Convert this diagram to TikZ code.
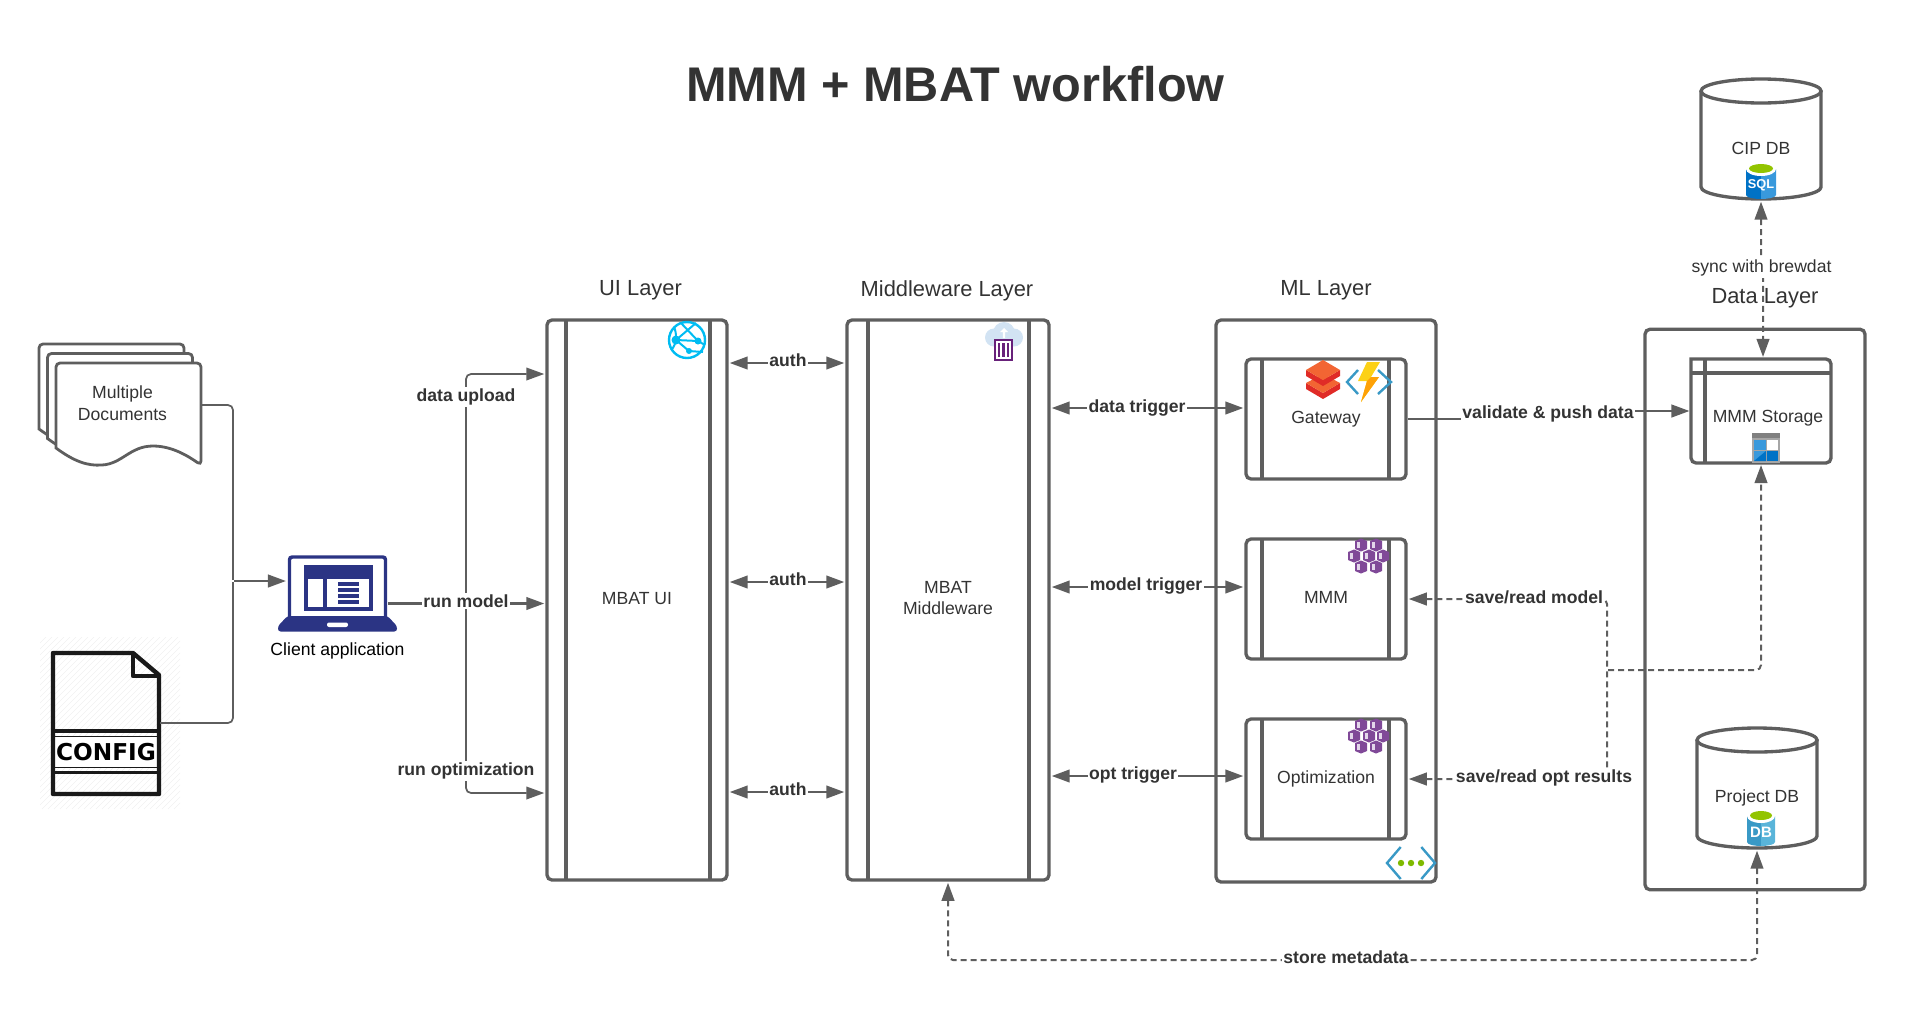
\documentclass[tikz,border=0pt]{standalone}
\usepackage{fontspec}
\setmainfont{Liberation Sans}
\newfontfamily\cfgfont{DejaVu Sans}
\usetikzlibrary{arrows.meta}
\definecolor{linegray}{HTML}{5E5E5E}
\definecolor{textgray}{HTML}{333333}
\definecolor{laptopblue}{HTML}{2B3484}
\definecolor{azureblue}{HTML}{3999C6}
\definecolor{azurelight}{HTML}{59B4D9}
\definecolor{azuredark}{HTML}{0072C6}
\definecolor{azuremid}{HTML}{3999DC}
\definecolor{kubepurple}{HTML}{804998}
\definecolor{kubelight}{HTML}{E3D6EA}
\definecolor{limegreen}{HTML}{7FBA00}
\definecolor{globecyan}{HTML}{00BCF2}
\definecolor{cloudblue}{HTML}{D2E3F3}
\definecolor{boxpurple}{HTML}{68217A}
\definecolor{stackorange}{HTML}{F26533}
\definecolor{stackred}{HTML}{E02B27}
\definecolor{boltyellow}{HTML}{FCD116}
\definecolor{boltorange}{HTML}{FF8C00}
\tikzset{every picture/.style={line width=0.75pt}}
\tikzset{
	boxline/.style={draw=linegray,line width=2.5pt},
	laneBox/.style={boxline,rectangle,rounded corners=3.75pt,inner sep=0pt,minimum width=#1*0.75pt,align=center,text=textgray,text depth=3pt,font=\bodyfont},
	flow/.style={draw=linegray,line width=1.6pt,>={Triangle[length=13.5pt,width=9.5pt]},shorten <=0.8pt,shorten >=0.8pt},
	thinflow/.style={flow,line width=1.3pt,rounded corners=3.75pt},
	dashflow/.style={flow,line width=1.5pt,dash pattern=on 4.5pt off 3pt,rounded corners=3.75pt},
	bodytext/.style={font=\bodyfont,text=textgray,align=center,inner sep=0pt},
	flowtext/.style={font=\bodyfont\bfseries,text=textgray,fill=white,align=center,inner sep=1pt},
	layertitle/.style={font=\fontsize{16.4}{20}\selectfont,text=textgray,inner sep=0pt},
	cylframe/.style={inner sep=0pt,outer sep=1.2pt,minimum width=90pt,minimum height=90pt},
}
\newcommand{\bodyfont}{\fontsize{13.2}{16.1}\selectfont}
% one sheet of the stack of documents
\newcommand{\docsheet}[2]{\draw[boxline,fill=white,line width=2.1pt,rounded corners=3pt,shift={(#1,#2)}] (56,448) -- (56,363) -- (201,363) -- (201,465) [sharp corners] .. controls (188,456) and (172,446) .. (153,446) .. controls (130,446) and (122,464) .. (102,465) .. controls (88,466) and (75,462) .. (56,448) -- cycle;}
% database outline, from its top middle point
\newcommand{\cylshape}[2]{\begin{scope}[shift={(#1,#2)}]
	\draw[boxline] (0,12) ellipse [x radius=60,y radius=12];
	\draw[boxline] (-60,12) -- (-60,108) .. controls (-60,114.6) and (-33,120) .. (0,120) .. controls (33,120) and (60,114.6) .. (60,108) -- (60,12);
	\end{scope}}
% seven hexagons, from the upper left corner of the icon
\newcommand{\kubeicon}[2]{\begin{scope}[shift={(#1,#2)}]
	\foreach \hx/\hy in {13/6,28/6,6/17,21/17,35/17,13/28,28/28}{
		\begin{scope}[shift={(\hx,\hy)}]
		\fill[kubepurple] (0,-6.5) -- (6,-4) -- (6,4) -- (0,6.5) -- (-6,4) -- (-6,-4) -- cycle;
		\fill[kubelight] (-3.6,-3.4) -- (-1,-3.4) -- (-1,3.4) -- (-3.6,3.4) -- cycle;
		\end{scope}}
	\end{scope}}
% small database barrel, from its top middle point
\newcommand{\barrelicon}[7]{\begin{scope}[shift={(#1,#2)}]
	\fill[#3] (-#6,7) -- (-#6,33) .. controls (-#6,36) and (-5,37) .. (0,37) -- (0,7) -- cycle;
	\fill[#4] (#6,7) -- (#6,33) .. controls (#6,36) and (5,37) .. (0,37) -- (0,7) -- cycle;
	\fill[white] (0,7) ellipse [x radius=#6,y radius=7];
	\fill[limegreen!85!yellow] (0,6.5) ellipse [x radius=#6-3,y radius=4.5];
	\node (#5) at (0,23) [font=\fontsize{#7}{#7}\selectfont\bfseries,text=white,inner sep=0pt] {#5};
	\end{scope}}

\begin{document}
\begin{tikzpicture}[x=0.75pt,y=0.75pt,yscale=-1,xscale=1]
	\useasboundingbox (0,0) rectangle (1926,1011);

	% Title
	\node (title) at (955.5,84) [font=\fontsize{36.5}{40}\selectfont\bfseries,text=textgray,inner sep=0pt] {MMM + MBAT workflow};

	% Layer titles
	\node (uititle) at (640.5,290.5) [layertitle] {UI Layer};
	\node (mwtitle) at (947,290.5) [layertitle] {Middleware Layer};
	\node (mltitle) at (1326,290.5) [layertitle] {ML Layer};
	\node (datatitle) at (1765,298.5) [layertitle] {Data Layer};

	%Multidocument
	\docsheet{-17}{-19}
	\docsheet{-8.5}{-9.5}
	\docsheet{0}{0}
	\node (docs) at (122.5,403) [bodytext] {Multiple\\Documents};
	\coordinate (docsout) at (201,405);

	%Config file: hatched ground
	\begin{scope}
	\clip (40,637) rectangle (180,809);
	\foreach \hx in {-132,-126,...,180}{
		\draw[black!6,line width=0.4pt] (\hx,809) -- (\hx+172,637);
	}
	\end{scope}
	%Config file: sheet
	\fill[white] (55,736) rectangle (158,768);
	\draw[black!90,line width=3.3pt,line join=round] (53,653) -- (133,653) -- (159,675) -- (159,794) -- (53,794) -- cycle;
	\draw[black!90,line width=3.3pt,line join=round] (133,653) -- (133,676) -- (159,676);
	\draw[black!90,line width=2.6pt] (53,731) -- (159,731);
	\draw[black!90,line width=1pt] (53,736.5) -- (159,736.5);
	\draw[black!90,line width=1pt] (53,767.5) -- (159,767.5);
	\draw[black!90,line width=2.6pt] (53,772.5) -- (159,772.5);
	\node (config) at (106,752) [font=\cfgfont\fontsize{17.4}{20}\selectfont\bfseries,text=black,inner sep=0pt] {CONFIG};
	\coordinate (configout) at (159,723);

	%Laptop
	\draw[laptopblue,line width=2.6pt,rounded corners=2pt] (289.5,618) -- (289.5,557) -- (385.5,557) -- (385.5,618);
	\fill[laptopblue,rounded corners=2pt] (287.5,616) -- (387.5,616) -- (397,626) -- (397,631.5) -- (278,631.5) -- (278,626) -- cycle;
	\fill[white,rounded corners=1.5pt] (327,622.5) rectangle (348,627);
	\fill[laptopblue] (304,565) rectangle (372.5,611);
	\fill[white] (308,578.5) rectangle (323,607);
	\fill[white] (327,578.5) rectangle (368.5,607);
	\foreach \by in {584,590,596,601.5}{
		\fill[laptopblue] (338,\by-2) rectangle (359,\by+2);
	}
	\node (client) at (337.5,650.5) [font=\bodyfont,text=black,inner sep=0pt] {Client application};
	\coordinate (laptopin) at (287,581);
	\coordinate (laptopout) at (388,603.5);
	\coordinate (docjoin) at (233,581);
	\coordinate (runjoin) at (466,603.5);

	%Layers
	\node (uibox) at (637,600) [laneBox=180,minimum height=420pt] {MBAT UI};
	\node (mwbox) at (948,600) [laneBox=202,minimum height=420pt] {MBAT\\Middleware};
	\node (mlbox) at (1326,601) [laneBox=220,minimum height=421.5pt] {};
	\node (databox) at (1755,609.5) [laneBox=220,minimum height=420.4pt] {};
	\draw[boxline] (566,320) -- (566,880);
	\draw[boxline] (710,320) -- (710,880);
	\draw[boxline] (868,320) -- (868,880);
	\draw[boxline] (1029,320) -- (1029,880);

	%ML boxes
	\node (gwbox) at (1326,419) [laneBox=160,minimum height=90pt] {Gateway};
	\node (mmmbox) at (1326,599) [laneBox=160,minimum height=90pt] {MMM};
	\node (optbox) at (1326,779) [laneBox=160,minimum height=90pt] {Optimization};
	\foreach \ty/\by in {359/479,539/659,719/839}{
		\draw[boxline] (1262,\ty) -- (1262,\by);
		\draw[boxline] (1389,\ty) -- (1389,\by);
	}

	%Storage box
	\node (storage) at (1761,411) [inner sep=0pt,minimum width=105pt,minimum height=78pt] {};
	\draw[boxline,rounded corners=3.75pt,line cap=rect] (1691,359) -- (1831,359) -- (1831,463) -- (1691,463) -- (1691,359);
	\draw[boxline] (1705,359) -- (1705,463);
	\draw[boxline] (1691,373) -- (1831,373);
	\node (storagetext) at (1768,418) [bodytext] {MMM Storage};

	%Databases
	\cylshape{1761}{79}
	\node (cipdb) at (1761,139) [cylframe] {};
	\node (cipdbtext) at (1761,148) [bodytext] {CIP DB};
	\cylshape{1757}{728}
	\node (projdb) at (1757,788) [cylframe] {};
	\node (projdbtext) at (1757,798) [bodytext] {Project DB};

	%Straight Lines
	\draw[flow,<->] (uibox.east |- 0,363) -- (mwbox.west |- 0,363);
	\draw[flow,<->] (uibox.east |- 0,582) -- (mwbox.west |- 0,582);
	\draw[flow,<->] (uibox.east |- 0,792) -- (mwbox.west |- 0,792);
	\draw[flow,<->] (mwbox.east |- 0,408) -- (gwbox.west |- 0,408);
	\draw[flow,<->] (mwbox.east |- 0,587) -- (mmmbox.west |- 0,587);
	\draw[flow,<->] (mwbox.east |- 0,776) -- (optbox.west |- 0,776);
	\draw[flow,->,shorten <=0pt] (laptopout) -- (uibox.west |- laptopout);
	\draw[flow,->] (docjoin) -- (laptopin);
	\draw[flow,->,shorten <=0pt] (gwbox.east |- 0,419) -- (1548,419) -- (1548,411) -- (storage.west |- 0,411);

	%Elbow Lines
	\draw[thinflow] (docsout) -- (233,405) -- (docjoin);
	\draw[thinflow] (configout) -- (233,723) -- (docjoin);
	\draw[thinflow,->] (runjoin) -- (466,374) -- (uibox.west |- 0,374);
	\draw[thinflow,->] (runjoin) -- (466,793) -- (uibox.west |- 0,793);

	%Dashed Lines
	\draw[dashflow,<->] (cipdb.south) -- (1761,266) -- (1763,266) -- (1763,358);
	\draw[dashflow,<-] (mmmbox.east |- 0,599) -- (1607,599) -- (1607,670);
	\draw[dashflow,<-] (optbox.east |- 0,779) -- (1607,779) -- (1607,670);
	\draw[dashflow,->] (1607,670) -- (1761,670) -- (1761,464);
	\draw[dashflow,<->] (mwbox.south) -- (948,960) -- (1757,960) -- (projdb.south);

	% Text Node
	\node (lblupload) at (466,397) [flowtext] {data upload};
	\node (lblrun) at (466,601) [flowtext] {run model};
	\node (lblopt) at (466,771) [flowtext] {run optimization};
	\node (lblauthA) at (788,360) [flowtext] {auth};
	\node (lblauthB) at (788,579) [flowtext] {auth};
	\node (lblauthC) at (788,789) [flowtext] {auth};
	\node (lbldata) at (1137,408) [flowtext] {data trigger};
	\node (lblmodel) at (1146,586) [flowtext] {model trigger};
	\node (lbloptt) at (1133,775) [flowtext] {opt trigger};
	\node (lblpush) at (1548,414) [flowtext] {validate \& push data};
	\node (lblsavemodel) at (1534,597) [flowtext] {save/read model};
	\node (lblsaveopt) at (1544,778) [flowtext] {save/read opt results};
	\node (lblmeta) at (1346,957) [flowtext] {store metadata};
	\node (lblsync) at (1761.5,268) [flowtext,font=\bodyfont] {sync with brewdat};

	%Icon: globe
	\draw[globecyan,line width=1.8pt] (687,340) circle [radius=18];
	\begin{scope}[globecyan,line width=1.5pt]
	\draw (674,327) .. controls (677,333) and (677,345) .. (671,350);
	\draw (681,323) -- (698,341) -- (705,345);
	\draw (676,340) -- (698,341);
	\draw (676,340) -- (689,351) -- (703,352);
	\draw (696,323) -- (676,340);
	\fill (676,340) circle [radius=4.5];
	\fill (698,341) circle [radius=3.5];
	\fill (689,351) circle [radius=3];
	\end{scope}

	%Icon: cloud with container
	\fill[cloudblue] (1004,333) circle [radius=11];
	\fill[cloudblue] (994,337.5) circle [radius=9];
	\fill[cloudblue] (1014,337.5) circle [radius=9];
	\fill[white] (1002.8,338) -- (1002.8,332) -- (1000,332) -- (1004,328) -- (1008,332) -- (1005.2,332) -- (1005.2,338) -- cycle;
	\draw[boxpurple,fill=white,line width=1.5pt] (995,340) rectangle (1012,360);
	\foreach \bx in {999,1003.5,1008}{
		\fill[boxpurple] (\bx-1.2,343) rectangle (\bx+1.2,357);
	}

	%Icon: stacked layers
	\fill[stackred] (1306,383) -- (1323,393) -- (1340,383) -- (1340,389) -- (1323,399) -- (1306,389) -- cycle;
	\fill[stackorange] (1306,383) -- (1323,374) -- (1340,383) -- (1323,393) -- cycle;
	\fill[stackred] (1306,370) -- (1323,380) -- (1340,370) -- (1340,376) -- (1323,386) -- (1306,376) -- cycle;
	\fill[stackorange] (1306,370) -- (1323,360) -- (1340,370) -- (1323,380) -- cycle;

	%Icon: function
	\draw[azureblue,line width=1.8pt] (1358,370) -- (1347,382) -- (1358,394);
	\draw[azureblue,line width=1.8pt] (1378,370) -- (1391,382) -- (1378,394);
	\fill[boltyellow] (1367,362) -- (1380,362) -- (1371,377) -- (1379,377) -- (1361,402) -- (1367,381) -- (1358,381) -- cycle;
	\fill[boltorange!70!boltyellow] (1371,377) -- (1379,377) -- (1361,402) -- (1367,381) -- cycle;

	%Icon: hexagons
	\kubeicon{1348}{539}
	\kubeicon{1348}{719}

	%Icon: network endpoints
	\draw[azureblue,line width=1.8pt] (1400.7,847) -- (1387,863) -- (1400.7,879);
	\draw[azureblue,line width=1.8pt] (1421.3,847) -- (1435,863) -- (1421.3,879);
	\foreach \dx in {1401,1411,1421}{
		\fill[limegreen] (\dx,863) circle [radius=3.2];
	}

	%Icon: table storage
	\fill[black!35] (1752,433) rectangle (1780,463);
	\fill[black!50] (1752,433) rectangle (1780,438);
	\fill[azuremid] (1754,440) rectangle (1766,450);
	\fill[white] (1767,440) rectangle (1778,450);
	\fill[azuremid] (1754,451) rectangle (1766,461);
	\fill[azuredark] (1754,461) -- (1766,451) -- (1766,461) -- cycle;
	\fill[azuredark] (1767,451) rectangle (1778,461);

	%Icon: databases
	\barrelicon{1761}{162}{azuredark}{azuremid}{SQL}{15}{9.6}
	\barrelicon{1761}{809}{azureblue}{azurelight}{DB}{14}{11.3}
\end{tikzpicture}
\end{document}
